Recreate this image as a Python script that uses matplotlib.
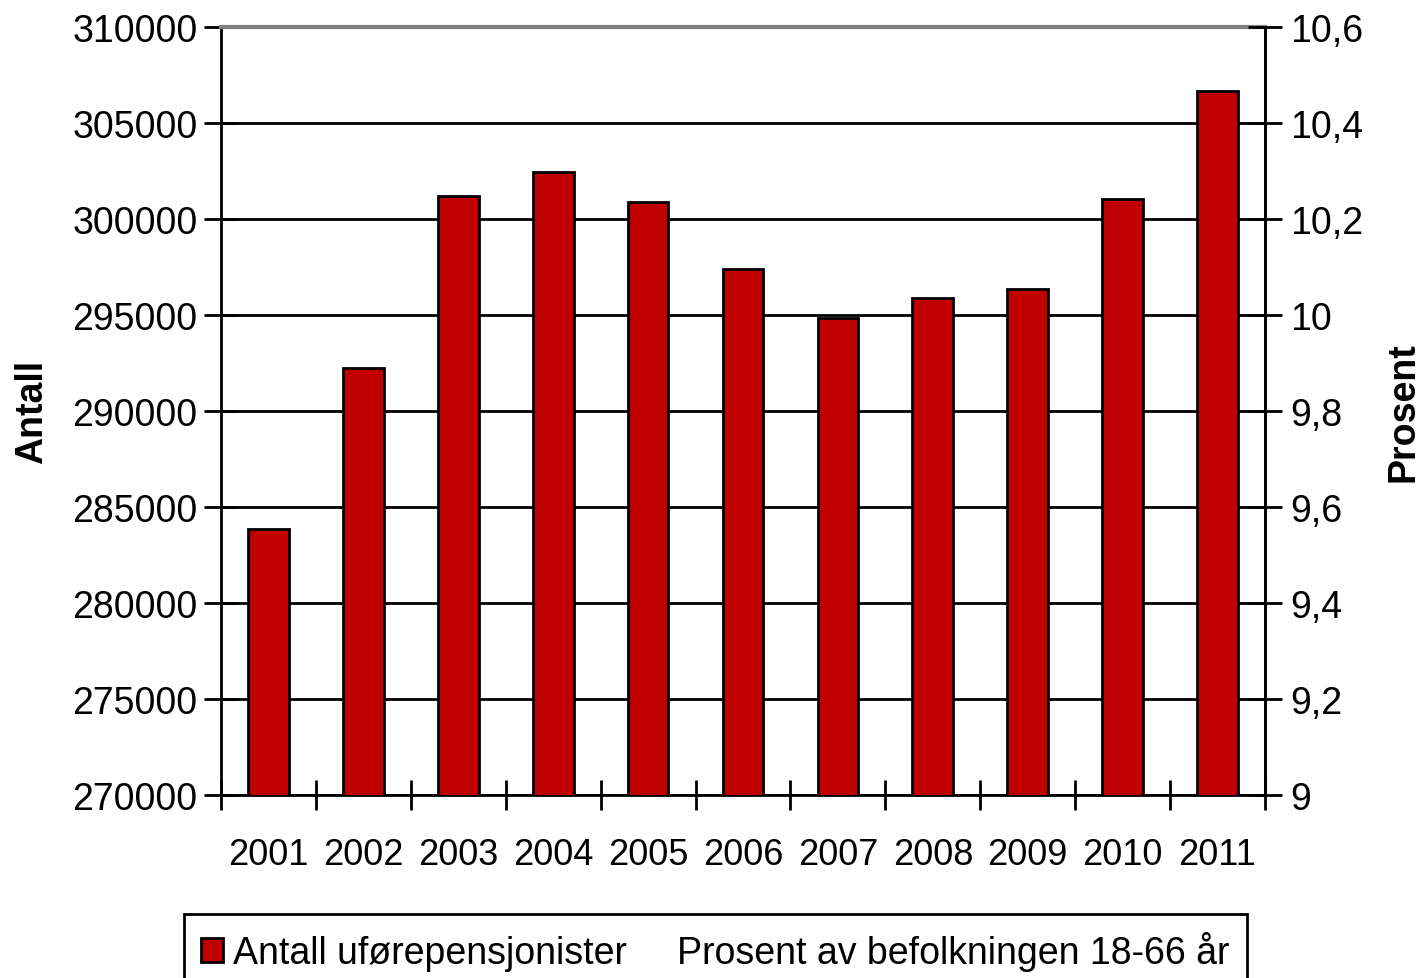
import matplotlib
matplotlib.use("Agg")
import matplotlib.pyplot as plt
from matplotlib.lines import Line2D
from matplotlib.patches import Patch
from matplotlib.ticker import FixedLocator, FuncFormatter

years = ["2001", "2002", "2003", "2004", "2005", "2006", "2007", "2008", "2009", "2010", "2011"]
antall = [283850, 292240, 301200, 302450, 300880, 297400, 294840, 295890, 296350, 301040, 306670]
left_ticks = [270000, 275000, 280000, 285000, 290000, 295000, 300000, 305000, 310000]
right_ticks = [9.0, 9.2, 9.4, 9.6, 9.8, 10.0, 10.2, 10.4, 10.6]

plt.rcParams['font.family'] = ['Liberation Sans', 'DejaVu Sans']
FS = 27

fig = plt.figure(figsize=(14.2, 9.79), dpi=100)
ax = fig.add_axes([221/1420, 1-796/979, (1265-221)/1420, (796-28)/979])

x = list(range(len(years)))
ax.bar(x, antall, width=0.43, color="#C00000", edgecolor="black", linewidth=2, zorder=3)
ax.set_xlim(-0.5, len(years)-0.5)
ax.set_ylim(270000, 310000)
ax.set_yticks(left_ticks)
ax.yaxis.grid(True, color="black", linewidth=2, zorder=0)
ax.set_axisbelow(True)
ax.set_xticks(x)
ax.set_xticklabels(years, fontsize=26)
ax.xaxis.set_minor_locator(FixedLocator([i-0.5 for i in range(len(years)+1)]))
ax.tick_params(axis='x', which='major', length=0, pad=30)
ax.tick_params(axis='x', which='minor', direction='inout', length=22, width=2)
ax.tick_params(axis='y', direction='inout', length=24, width=2, labelsize=FS, pad=5)
for s in ["left", "bottom", "right"]:
    ax.spines[s].set_linewidth(2)
ax.spines["top"].set_color("#808080")
ax.spines["top"].set_linewidth(3)
ax.set_ylabel("Antall", fontsize=FS, fontweight="bold", labelpad=16)

ax2 = ax.twinx()
ax2.set_ylim(9.0, 10.6)
ax2.set_yticks(right_ticks)
ax2.yaxis.set_major_formatter(FuncFormatter(lambda v, p: ("%g" % round(v, 1)).replace(".", ",")))
ax2.tick_params(axis='y', direction='inout', length=24, width=2, labelsize=FS, pad=6)
for s in ax2.spines.values():
    s.set_visible(False)
ax2.set_ylabel("Prosent", fontsize=FS, fontweight="bold", labelpad=16, rotation=90)
ax2.spines["right"].set_visible(True)
ax2.spines["right"].set_linewidth(2)

handles = [Patch(facecolor="#C00000", edgecolor="black", linewidth=2),
           Line2D([], [], linestyle="none")]
labels = ["Antall uførepensjonister", "Prosent av befolkningen 18-66 år"]
leg = fig.legend(handles, labels, loc="upper left", bbox_to_anchor=(184/1420, 1-915/979),
                 ncol=2, fontsize=FS, frameon=True, fancybox=False, edgecolor="black",
                 framealpha=1, handlelength=0.6, handleheight=0.6, handletextpad=0.25,
                 columnspacing=0.5, borderpad=0.45, borderaxespad=0)
leg.get_frame().set_linewidth(2)

fig.savefig("out.png", dpi=100)
